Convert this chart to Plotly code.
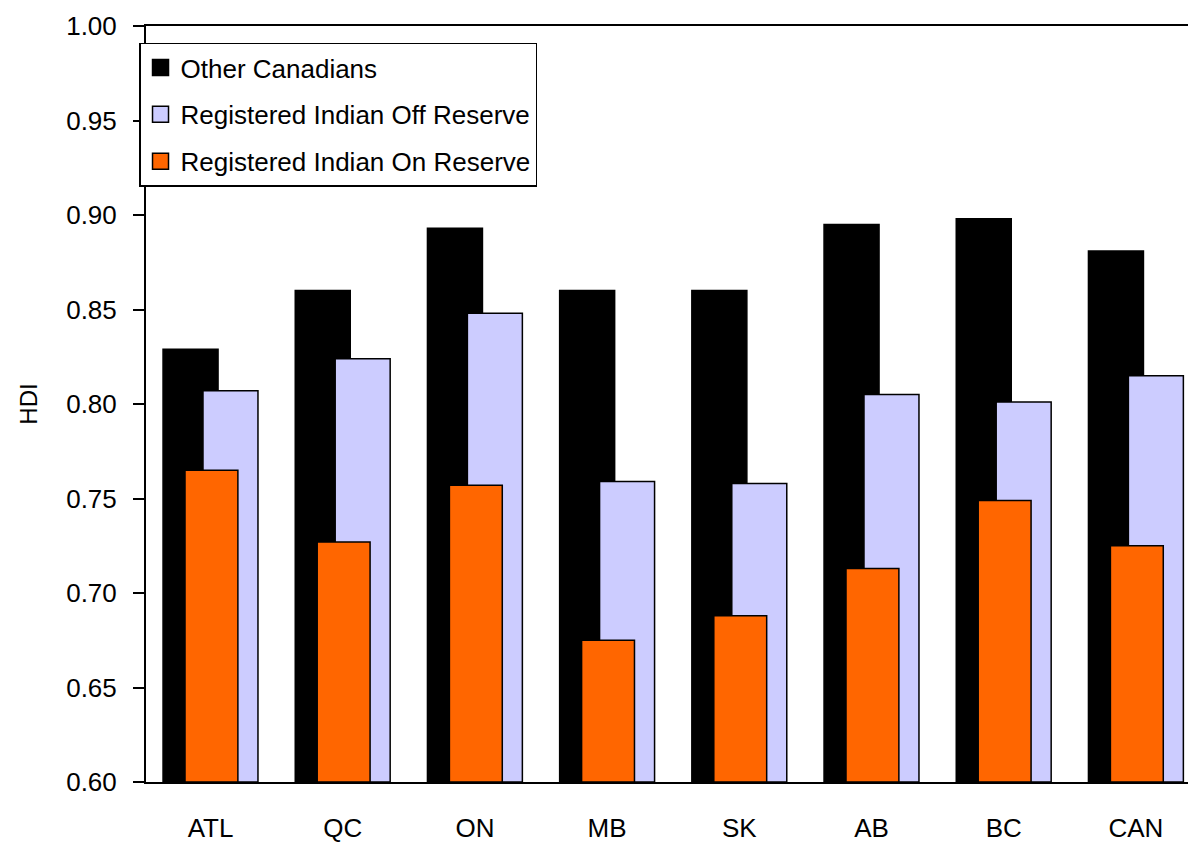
import plotly.graph_objects as go

regions = ["ATL", "QC", "ON", "MB", "SK", "AB", "BC", "CAN"]
other_canadians = [0.829, 0.860, 0.893, 0.860, 0.860, 0.895, 0.898, 0.881]
off_reserve = [0.807, 0.824, 0.848, 0.759, 0.758, 0.805, 0.801, 0.815]
on_reserve = [0.765, 0.727, 0.757, 0.675, 0.688, 0.713, 0.749, 0.725]
y_ticks = [0.60, 0.65, 0.70, 0.75, 0.80, 0.85, 0.90, 0.95, 1.00]

FONT = "Liberation Sans, Arial, sans-serif"
SIZE = 26
xpos = list(range(len(regions)))

fig = go.Figure()
series = [
    ("Other Canadians", other_canadians, "#000000", -0.359, 0.416),
    ("Registered Indian Off Reserve", off_reserve, "#CCCCFF", -0.057, 0.416),
    ("Registered Indian On Reserve", on_reserve, "#FF6600", -0.193, 0.400),
]
for i, (name, vals, color, off, w) in enumerate(series):
    fig.add_trace(go.Bar(
        x=xpos, y=[v - 0.6 for v in vals], base=0.6,
        name=name, offset=off, width=w, showlegend=False,
        legendgroup=f"g{i}",
        marker=dict(color=color, line=dict(color="#000000", width=1.5)),
        hovertext=[f"{v:.3f}" for v in vals], hoverinfo="text+name",
    ))
    # square legend key for this series
    fig.add_trace(go.Scatter(
        x=[None], y=[None], mode="markers", name=name, legendgroup=f"g{i}",
        marker=dict(symbol="square", size=16, color=color,
                    line=dict(color="#000000", width=1.5)),
        hoverinfo="skip",
    ))

fig.update_layout(
    width=1188, height=843,
    margin=dict(l=146, r=0, t=26, b=58),
    barmode="overlay",
    plot_bgcolor="white", paper_bgcolor="white",
    font=dict(family=FONT, size=SIZE, color="#000000"),
    showlegend=True,
    legend=dict(
        x=-0.0067, y=0.978, xanchor="left", yanchor="top",
        bgcolor="white", bordercolor="#000000", borderwidth=1.5,
        font=dict(family=FONT, size=SIZE, color="#000000"),
        traceorder="grouped", tracegroupgap=10, itemsizing="trace",
    ),
    xaxis=dict(
        range=[-0.488, 7.394], tickmode="array", tickvals=xpos, ticktext=regions,
        showline=True, linecolor="#000000", linewidth=2, mirror=True,
        ticks="", showgrid=False, zeroline=False, ticklabelstandoff=22,
        tickfont=dict(family=FONT, size=SIZE),
    ),
    yaxis=dict(
        range=[0.6, 1.0], tickmode="array", tickvals=y_ticks,
        ticktext=[f"{t:.2f}" for t in y_ticks],
        showline=True, linecolor="#000000", linewidth=2,
        ticks="outside", ticklen=11, tickwidth=1.5, tickcolor="#000000",
        showgrid=False, zeroline=False, ticklabelstandoff=11,
        tickfont=dict(family=FONT, size=SIZE),
        title=dict(text="HDI", standoff=22, font=dict(family=FONT, size=24)),
    ),
)

fig.write_html("out.html")
